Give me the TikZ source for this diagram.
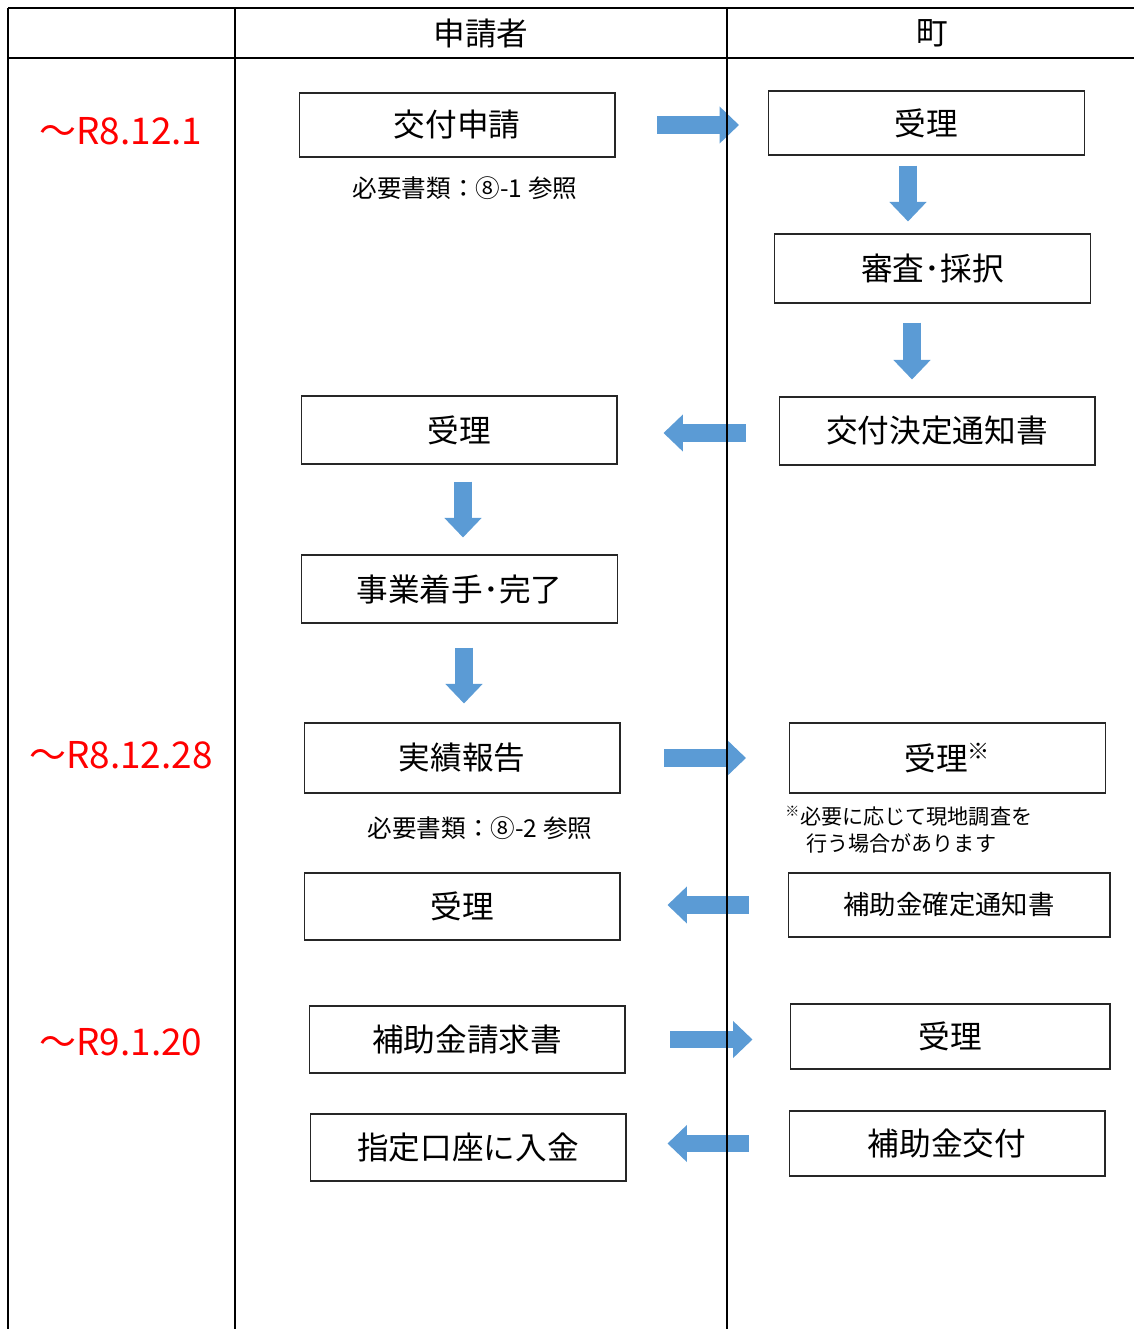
\documentclass[tikz,border=0pt]{standalone}
\usepackage{fontspec}
\setmainfont{Noto Sans CJK JP}
\usetikzlibrary{arrows.meta}

\definecolor{flowblue}{RGB}{91,155,213}
\definecolor{datered}{RGB}{255,0,0}

\tikzset{
  box/.style={draw=black!85, line width=0.6pt, minimum width=6.32cm, minimum height=1.36cm, inner sep=0pt, font=\fontsize{18pt}{21pt}\selectfont},
  small/.style={font=\fontsize{14pt}{16pt}\selectfont},
  datelbl/.style={text=datered, font=\fontsize{21pt}{24pt}\selectfont},
  flow/.style={draw=flowblue, line width=0.35cm, -{Triangle[length=0.39cm, width=0.72cm]}},
  rule/.style={black, line width=1.2pt},
}

\begin{document}
\begin{tikzpicture}[x=0.02cm,y=-0.02cm]
\useasboundingbox (0,0) rectangle (1134,1329);

% applicant column
\node[box, minimum height=1.28cm] (s1) at (457,125) {交付申請};
\node[small] (n1) at (465,188) {必要書類：⑧-1 参照};
\node[box] (s2) at (459,430) {受理};
\node[box] (s3) at (459.5,589) {事業着手･完了};
\node[box, minimum height=1.4cm] (s4) at (462,758) {実績報告};
\node[small] (n2) at (480,828) {必要書類：⑧-2 参照};
\node[box, minimum height=1.34cm] (s5) at (462,906.5) {受理};
\node[box, minimum height=1.34cm] (s6) at (467,1039.5) {補助金請求書};
\node[box, minimum height=1.34cm] (s7) at (468,1147.5) {指定口座に入金};

% town column
\node[box, minimum height=1.28cm] (r1) at (926.5,123) {受理};
\node[box, minimum height=1.38cm] (r2) at (932.5,268.5) {審査･採択};
\node[box] (r3) at (937,431) {交付決定通知書};
\node[box, minimum height=1.4cm] (r4) at (947.5,758) {受理\textsuperscript{※}};
\node[font=\fontsize{12pt}{15.3pt}\selectfont, align=left, anchor=north west, inner sep=0pt] (n3) at (785,806)
  {\textsuperscript{※}必要に応じて現地調査を\\\hspace*{0.42cm}行う場合があります};
\node[box, minimum width=6.44cm, minimum height=1.28cm, font=\fontsize{15pt}{18pt}\selectfont] (r5) at (949,905) {補助金確定通知書};
\node[box, minimum width=6.4cm, minimum height=1.3cm] (r6) at (950,1036.5) {受理};
\node[box, minimum height=1.3cm] (r7) at (947,1143.5) {補助金交付};

% dates
\node[datelbl] (d1) at (121,131) {～R8.12.1};
\node[datelbl] (d2) at (121,755) {～R8.12.28};
\node[datelbl] (d3) at (121,1042) {～R9.1.20};

% arrows
\draw[flow, shorten <=0.84cm, shorten >=0.58cm] (s1.east) -- (s1.east -| r1.west);
\draw[flow, shorten <=0.2cm, shorten >=0.24cm] ([xshift=-0.37cm]r1.south) -- ([xshift=-0.37cm]r1.south |- r2.north);
\draw[flow, shorten <=0.38cm, shorten >=0.34cm] ([xshift=-0.41cm]r2.south) -- ([xshift=-0.41cm]r2.south |- r3.north);
\draw[flow, shorten <=0.66cm, shorten >=0.92cm] ([yshift=-0.04cm]r3.west) -- ([yshift=-0.04cm]r3.west -| s2.east);
\draw[flow, shorten <=0.34cm, shorten >=0.34cm] ([xshift=0.08cm]s2.south) -- ([xshift=0.08cm]s2.south |- s3.north);
\draw[flow, shorten <=0.48cm, shorten >=0.38cm] ([xshift=0.09cm]s3.south) -- ([xshift=0.09cm]s3.south |- s4.north);
\draw[flow, shorten <=0.88cm, shorten >=0.86cm] (s4.east) -- (s4.east -| r4.west);
\draw[flow, shorten <=0.78cm, shorten >=0.94cm] (r5.west) -- (r5.west -| s5.east);
\draw[flow, shorten <=0.9cm, shorten >=0.74cm] (s6.east) -- (s6.east -| r6.west);
\draw[flow, shorten <=0.8cm, shorten >=0.82cm] (r7.west) -- (r7.west -| s7.east);

% table
\coordinate (tl) at (8,8);
\coordinate (tr) at (1134,8);
\draw[rule] (tl) -- (tr);
\draw[rule] (8,58) -- (1134,58);
\draw[rule] (tl) -- (8,1329);
\draw[rule] (235,8) -- (235,1329);
\draw[rule] (727,8) -- (727,1329);
\node[font=\fontsize{18pt}{21pt}\selectfont] (h1) at (481,33) {申請者};
\node[font=\fontsize{18pt}{21pt}\selectfont] (h2) at (932,33) {町};

\end{tikzpicture}
\end{document}
